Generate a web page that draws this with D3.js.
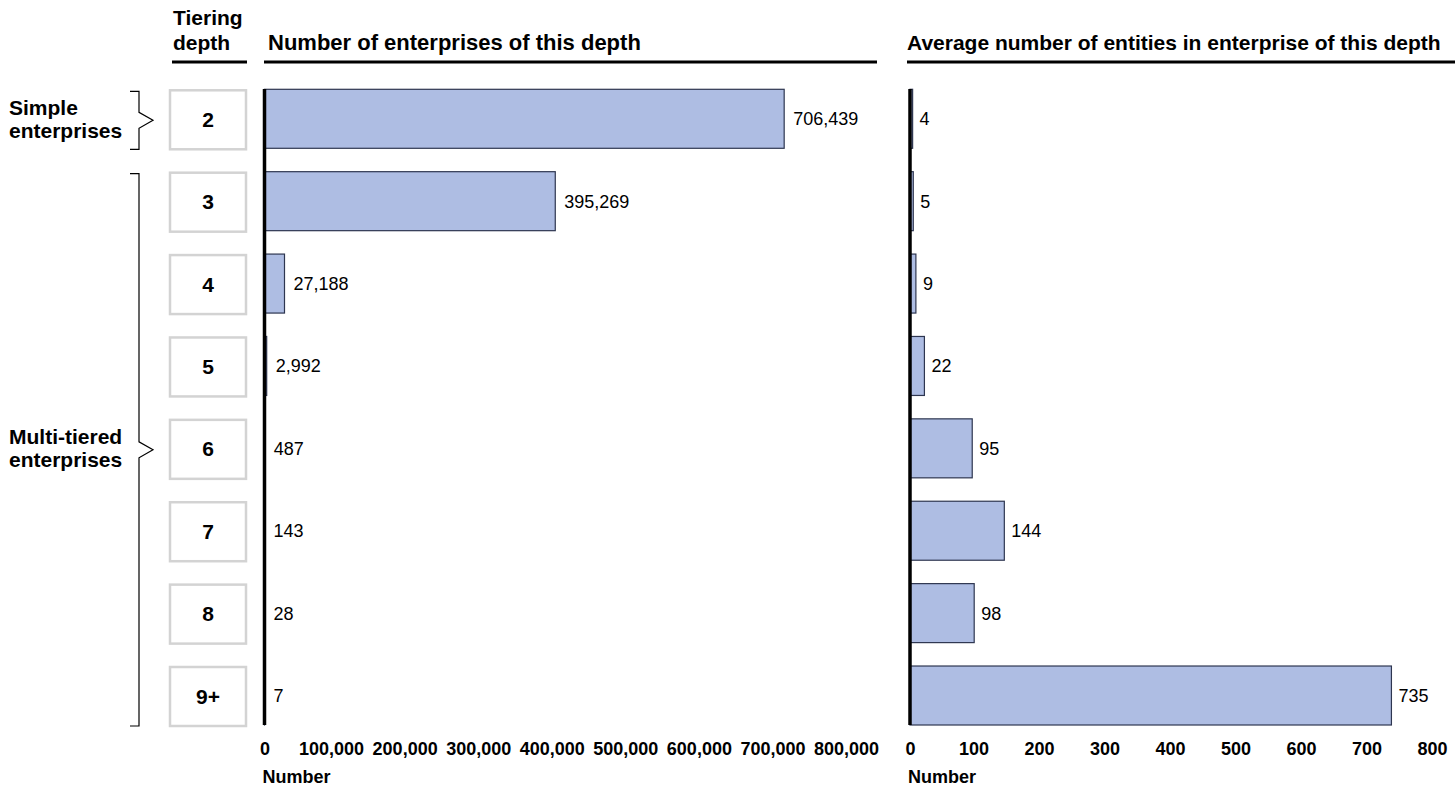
<html>
<head>
	<script src="https://d3js.org/d3.v7.min.js"></script>
	<style>
		body { margin: 0; background: #fff; }
		svg { font-family: "Liberation Sans", Arial, sans-serif; }
	</style>
</head>
<body>
	<svg width="1455" height="789"></svg>

	<script>
	// data
	const depths = ["2", "3", "4", "5", "6", "7", "8", "9+"];
	const enterprises = [706439, 395269, 27188, 2992, 487, 143, 28, 7];
	const avgEntities = [4, 5, 9, 22, 95, 144, 98, 735];
	const enterpriseTicks = [0, 100000, 200000, 300000, 400000, 500000, 600000, 700000, 800000];
	const entityTicks = [0, 100, 200, 300, 400, 500, 600, 700, 800];
	const groupNames = [["Simple", "enterprises"], ["Multi-tiered", "enterprises"]];
	const groupFirst = ["2", "3"];
	const groupLast = ["2", "9+"];
	const groupMid = ["2", "6"];

	const svg = d3.select("svg");
	const barFill = "#aebde3";
	const barStroke = "#2e3650";

	const y = d3.scaleBand().domain(depths).range([89.3, 725]).paddingInner(0.284).paddingOuter(0);
	const x1 = d3.scaleLinear().domain([0, 800000]).range([264.5, 853]);
	const x2 = d3.scaleLinear().domain([0, 800]).range([910, 1434]);

	// headers
	const hdr = svg.append("g").style("font-weight", "bold").style("font-size", "21px");
	hdr.append("text").attr("x", 173).attr("y", 25).text("Tiering");
	hdr.append("text").attr("x", 173).attr("y", 50).text("depth");
	hdr.append("text").attr("x", 268).attr("y", 50).style("font-size", "22px").text("Number of enterprises of this depth");
	hdr.append("text").attr("x", 907).attr("y", 50).text("Average number of entities in enterprise of this depth");
	[[172, 247], [264, 877], [907, 1455]].forEach(d => {
		svg.append("line").attr("x1", d[0]).attr("x2", d[1]).attr("y1", 62).attr("y2", 62)
			.attr("stroke", "#000").attr("stroke-width", 3);
	});

	// depth boxes
	const boxes = svg.append("g").selectAll("g").data(depths).enter().append("g");
	boxes.append("rect")
		.attr("x", 170).attr("width", 76)
		.attr("y", d => y(d) + 1).attr("height", y.bandwidth())
		.attr("fill", "#fff").attr("stroke", "#d3d3d3").attr("stroke-width", 2.5);
	boxes.append("text")
		.attr("x", 208).attr("y", d => y(d) + y.bandwidth() / 2 + 8)
		.attr("text-anchor", "middle").style("font-weight", "bold").style("font-size", "21px")
		.text(d => d);

	// braces and group labels
	groupNames.forEach((names, i) => {
		const top = y(groupFirst[i]) + 2;
		const bot = y(groupLast[i]) + y.bandwidth() + 1;
		const mid = (top + bot) / 2;
		const bx = 139;
		svg.append("path")
			.attr("d", `M130,${top}H${bx}V${mid - 8}L153,${mid}L${bx},${mid + 8}V${bot}H130`)
			.attr("fill", "none").attr("stroke", "#000").attr("stroke-width", 1.2);
		const cy = y(groupMid[i]) + y.bandwidth() / 2;
		svg.append("text").attr("x", 9).attr("y", cy - 4)
			.style("font-weight", "bold").style("font-size", "21px").text(names[0]);
		svg.append("text").attr("x", 9).attr("y", cy + 19)
			.style("font-weight", "bold").style("font-size", "21px").text(names[1]);
	});

	function panel(scale, values, ticks, fmt, labelGap, tickShift) {
		const g = svg.append("g");
		g.selectAll("rect").data(values).enter().append("rect")
			.attr("x", scale(0))
			.attr("y", (d, i) => y(depths[i]))
			.attr("width", d => scale(d) - scale(0))
			.attr("height", y.bandwidth())
			.attr("fill", barFill).attr("stroke", barStroke).attr("stroke-width", 1.2);
		g.selectAll("text.val").data(values).enter().append("text")
			.attr("class", "val")
			.attr("x", d => scale(d) + labelGap)
			.attr("y", (d, i) => y(depths[i]) + y.bandwidth() / 2 + 6.5)
			.style("font-size", "18px")
			.text(d => d3.format(",")(d));
		// vertical axis line
		g.append("line")
			.attr("x1", scale(0)).attr("x2", scale(0))
			.attr("y1", 89).attr("y2", 725)
			.attr("stroke", "#000").attr("stroke-width", 3.5);
		// bottom tick labels
		const axis = d3.axisBottom(scale).tickValues(ticks).tickSize(0).tickFormat(fmt);
		g.append("g").attr("transform", "translate(0,755)")
			.call(axis)
			.call(a => a.select(".domain").remove())
			.call(a => a.selectAll("text").attr("y", 0).attr("dy", 0)
				.attr("dx", d => d === 0 ? 0 : tickShift)
				.attr("fill", "#000")
				.style("font-family", "Liberation Sans, Arial, sans-serif")
				.style("font-weight", "bold").style("font-size", "18px"));
		g.append("text").attr("x", scale(0) - 2).attr("y", 783)
			.style("font-weight", "bold").style("font-size", "18px").text("Number");
	}

	panel(x1, enterprises, enterpriseTicks, d3.format(","), 9, -7);
	panel(x2, avgEntities, entityTicks, d3.format(","), 7, -2);
	</script>
</body>
</html>
